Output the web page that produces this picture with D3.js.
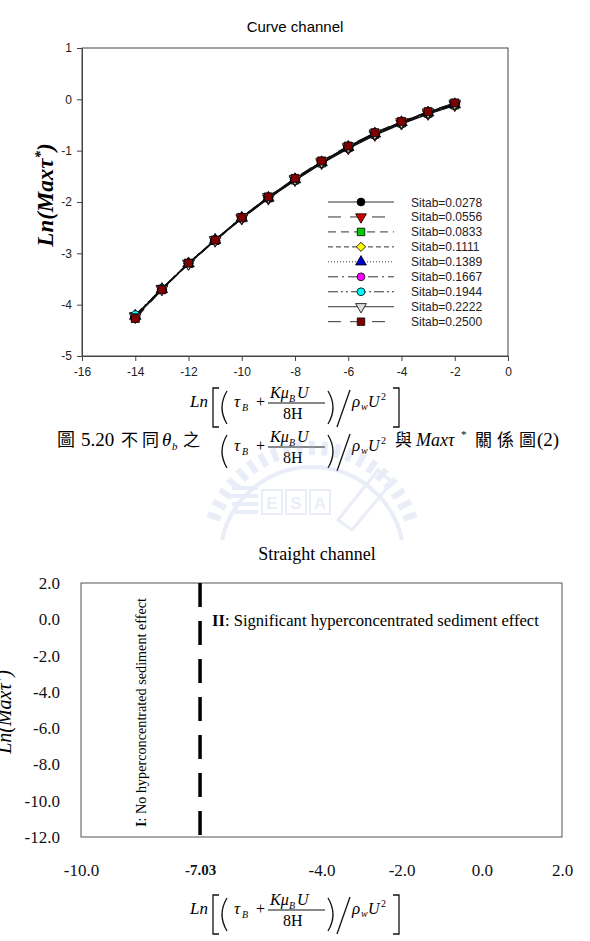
<!DOCTYPE html>
<html>
<head>
<meta charset="utf-8">
<script src="https://cdn.jsdelivr.net/npm/d3@7"></script>
<style>
  body { margin: 0; background: #fff; }
  svg { display: block; }
</style>
</head>
<body>
<div id="chart"></div>
<script>
// ---- data ----
var lnShear = [-14, -13, -12, -11, -10, -9, -8, -7, -6, -5, -4, -3, -2];
var sitabNames = ["Sitab=0.0278", "Sitab=0.0556", "Sitab=0.0833", "Sitab=0.1111", "Sitab=0.1389",
                  "Sitab=0.1667", "Sitab=0.1944", "Sitab=0.2222", "Sitab=0.2500"];
var s0278 = [-4.22, -3.69, -3.20, -2.75, -2.32, -1.93, -1.58, -1.25, -0.96, -0.70, -0.48, -0.29, -0.12];
var s0556 = [-4.22, -3.69, -3.20, -2.75, -2.32, -1.93, -1.57, -1.24, -0.95, -0.69, -0.47, -0.28, -0.11];
var s0833 = [-4.23, -3.70, -3.20, -2.75, -2.31, -1.92, -1.57, -1.24, -0.94, -0.68, -0.46, -0.27, -0.11];
var s1111 = [-4.23, -3.70, -3.20, -2.75, -2.31, -1.92, -1.56, -1.23, -0.94, -0.68, -0.46, -0.27, -0.10];
var s1389 = [-4.22, -3.70, -3.20, -2.74, -2.31, -1.92, -1.56, -1.23, -0.93, -0.67, -0.45, -0.26, -0.10];
var s1667 = [-4.22, -3.69, -3.19, -2.74, -2.30, -1.91, -1.55, -1.22, -0.93, -0.67, -0.45, -0.26, -0.09];
var s1944 = [-4.20, -3.69, -3.19, -2.74, -2.30, -1.91, -1.55, -1.22, -0.92, -0.66, -0.44, -0.25, -0.09];
var s2222 = [-4.24, -3.70, -3.20, -2.74, -2.30, -1.90, -1.55, -1.21, -0.92, -0.66, -0.44, -0.25, -0.08];
var s2500 = [-4.27, -3.71, -3.19, -2.74, -2.30, -1.90, -1.54, -1.20, -0.91, -0.65, -0.43, -0.24, -0.07];
var curveSeries = [s0278, s0556, s0833, s1111, s1389, s1667, s1944, s2222, s2500];
var curveXTicks = [-16, -14, -12, -10, -8, -6, -4, -2, 0];
var curveYTicks = [-5, -4, -3, -2, -1, 0, 1];

var straightXTicks = [-10, -7.03, -4, -2, 0, 2];
var straightYTicks = [2, 0, -2, -4, -6, -8, -10, -12];
var thresholdX = -7.03;

// ---- styles ----
var markerType = ["circle", "tridown", "square", "diamond", "triup", "circle", "circle", "tridown", "square"];
var markerFill = ["#000000", "#cc0000", "#00cc00", "#ffff00", "#0000cc", "#ff00ff", "#00ffff", "#dddddd", "#800000"];
var dashStyle = [null, "13,9", "8,5", "5,3", "1,2", "10,4,2,4", "10,3,2,3,2,3", null, "13,9"];

var sans = "'Liberation Sans', Arial, sans-serif";
var serif = "'Liberation Serif', 'Times New Roman', serif";
var cjk = "'Noto Sans CJK TC', 'Noto Sans CJK SC', sans-serif";

// hyphen minus like the original
var plain = function(d) { return String(d); };
var fixed1 = function(d) { return d.toFixed(1); };

var svg = d3.select("#chart").append("svg")
    .attr("width", 590)
    .attr("height", 941);

function marker(sel, type, size) {
  var sym = d3.symbolCircle, rot = 0, s = size;
  if (type == "tridown") { sym = d3.symbolTriangle; rot = 180; s = size * 0.9; }
  if (type == "triup") { sym = d3.symbolTriangle; s = size * 0.9; }
  if (type == "square") { sym = d3.symbolSquare; }
  if (type == "diamond") { sym = d3.symbolSquare; rot = 45; s = size * 0.75; }
  if (type == "circle") { s = size * 0.85; }
  sel.attr("d", d3.symbol().type(sym).size(s)())
     .attr("data-rot", rot);
  return sel;
}

// ================= top chart : Curve channel =================
var cBox = {left: 82, right: 508, top: 48, bottom: 356};

var x = d3.scaleLinear().domain([-16, 0]).range([cBox.left, cBox.right]);
var y = d3.scaleLinear().domain([-5, 1]).range([cBox.bottom, cBox.top]);

svg.append("text")
    .attr("x", (cBox.left + cBox.right) / 2).attr("y", 32)
    .attr("text-anchor", "middle")
    .style("font-family", sans).style("font-size", "15px")
    .text("Curve channel");

// frame
svg.append("rect")
    .attr("x", cBox.left).attr("y", cBox.top)
    .attr("width", cBox.right - cBox.left).attr("height", cBox.bottom - cBox.top)
    .attr("fill", "none").attr("stroke", "#444").attr("stroke-width", 1);

var xAxis = svg.append("g")
    .attr("transform", "translate(0," + cBox.bottom + ")")
    .call(d3.axisBottom(x).tickValues(curveXTicks).tickSize(5).tickPadding(6).tickSizeOuter(0).tickFormat(plain));
var yAxis = svg.append("g")
    .attr("transform", "translate(" + cBox.left + ",0)")
    .call(d3.axisLeft(y).tickValues(curveYTicks).tickSize(5).tickPadding(5).tickSizeOuter(0).tickFormat(plain));
[xAxis, yAxis].forEach(function(a) {
  a.selectAll("text").style("font-family", sans).style("font-size", "12px").attr("fill", "#222");
  a.selectAll("line, path").attr("stroke", "#444");
});

// lines and markers
var valueline = d3.line()
    .x(function(d, i) { return x(lnShear[i]); })
    .y(function(d) { return y(d); });

curveSeries.forEach(function(vals, k) {
  svg.append("path")
      .datum(vals)
      .attr("d", valueline)
      .attr("fill", "none")
      .attr("stroke", "#111")
      .attr("stroke-width", 1.3)
      .attr("stroke-dasharray", dashStyle[k]);
});
curveSeries.forEach(function(vals, k) {
  svg.append("g").selectAll("path")
      .data(vals)
      .enter().append("path")
      .each(function(d, i) {
        var p = marker(d3.select(this), markerType[k], 64);
        p.attr("transform", "translate(" + x(lnShear[i]) + "," + y(d) + ") rotate(" + p.attr("data-rot") + ")");
      })
      .attr("fill", markerFill[k])
      .attr("stroke", "#000")
      .attr("stroke-width", 0.8);
});

// legend
var legend = svg.append("g");
sitabNames.forEach(function(name, k) {
  var ly = 202 + k * 14.96;
  legend.append("line")
      .attr("x1", 328).attr("x2", 394).attr("y1", ly).attr("y2", ly)
      .attr("stroke", "#333").attr("stroke-width", 1)
      .attr("stroke-dasharray", dashStyle[k]);
  var p = marker(legend.append("path"), markerType[k], 56);
  p.attr("transform", "translate(361," + ly + ") rotate(" + p.attr("data-rot") + ")")
      .attr("fill", markerFill[k]).attr("stroke", "#000").attr("stroke-width", 0.8);
  legend.append("text")
      .attr("x", 411).attr("y", ly + 4.5)
      .style("font-family", sans).style("font-size", "12px").attr("fill", "#222")
      .text(name);
});

// y label
svg.append("text")
    .attr("transform", "translate(53,195) rotate(-90)")
    .attr("text-anchor", "middle")
    .style("font-family", serif).style("font-size", "23px").style("font-style", "italic")
    .style("font-weight", "bold")
    .html("Ln(Max&#964;<tspan dy='-8' font-size='15'>*</tspan><tspan dy='8'>)</tspan>");

// ---- math formula: Ln[(tau_B + K mu_B U / 8H) / rho_w U^2] ----
function formula(dy, withLn) {
  var g = svg.append("g").attr("transform", "translate(0," + dy + ")");
  function t(px, py, str, size, italic) {
    return g.append("text").attr("x", px).attr("y", py)
      .style("font-family", serif).style("font-size", size + "px")
      .style("font-style", italic ? "italic" : "normal")
      .text(str);
  }
  var stroke = function(p) { g.append("path").attr("d", p).attr("fill", "none").attr("stroke", "#111").attr("stroke-width", 1.3); };
  if (withLn) {
    t(190, 407, "Ln", 17, true);
    stroke("M219,388 H213 V427 H219");
    stroke("M393,388 H399 V427 H393");
  }
  stroke("M227,391 Q217,407.5 227,424");
  stroke("M328,391 Q338,407.5 328,424");
  stroke("M350,390 L337,427");
  t(234, 407, "\u03C4", 17, true);
  t(242, 411, "B", 10, true);
  t(256, 407, "+", 16, false);
  t(270, 398, "K\u03BC", 16, true);
  t(289, 402, "B", 10, true);
  t(297, 398, "U", 16, true);
  g.append("line").attr("x1", 268).attr("x2", 325).attr("y1", 403).attr("y2", 403)
      .attr("stroke", "#111").attr("stroke-width", 1);
  t(283, 419, "8H", 16, false);
  t(352, 407, "\u03C1", 17, true);
  t(361, 410, "w", 10, true);
  t(368, 407, "U", 16, true);
  t(381, 400, "2", 10, false);
  return g;
}
formula(0, true);

// ---- caption ----
var cap = svg.append("g");
cap.append("text").attr("x", 57).attr("y", 446).style("font-family", cjk).style("font-size", "18px").text("圖");
cap.append("text").attr("x", 81).attr("y", 446).style("font-family", serif).style("font-size", "19px").text("5.20");
cap.append("text").attr("x", 121).attr("y", 446).style("font-family", cjk).style("font-size", "17px").text("不");
cap.append("text").attr("x", 142).attr("y", 446).style("font-family", cjk).style("font-size", "17px").text("同");
cap.append("text").attr("x", 162).attr("y", 446).style("font-family", serif).style("font-size", "19px").style("font-style", "italic").text("\u03B8");
cap.append("text").attr("x", 172).attr("y", 450).style("font-family", serif).style("font-size", "11px").style("font-style", "italic").text("b");
cap.append("text").attr("x", 183).attr("y", 446).style("font-family", cjk).style("font-size", "17px").text("之");
formula(44, false);
cap.append("text").attr("x", 395).attr("y", 446).style("font-family", cjk).style("font-size", "17px").text("與");
cap.append("text").attr("x", 416).attr("y", 446).style("font-family", serif).style("font-size", "18px").style("font-style", "italic").text("Max\u03C4");
cap.append("text").attr("x", 461).attr("y", 438).style("font-family", serif).style("font-size", "11px").text("*");
cap.append("text").attr("x", 475).attr("y", 446).style("font-family", cjk).style("font-size", "17px").text("關");
cap.append("text").attr("x", 497).attr("y", 446).style("font-family", cjk).style("font-size", "17px").text("係");
cap.append("text").attr("x", 519).attr("y", 446).style("font-family", cjk).style("font-size", "17px").text("圖");
cap.append("text").attr("x", 537).attr("y", 446).style("font-family", serif).style("font-size", "19px").text("(2)");

// ---- faint watermark ----
var wmColor = "#9fb2e2";
var wm = svg.append("g").attr("opacity", 0.22).attr("fill", wmColor);
var wmCx = 312, wmCy = 552, wmR = 104;
d3.range(200, 341, 7).forEach(function(a) {
  var r = a * Math.PI / 180;
  wm.append("rect").attr("x", -3).attr("y", -7).attr("width", 6).attr("height", 14)
    .attr("transform", "translate(" + (wmCx + wmR * Math.cos(r)) + "," + (wmCy + wmR * Math.sin(r)) + ") rotate(" + (a + 90) + ")");
});
wm.append("path").attr("d", "M222,540 A92,92 0 0 1 402,540").attr("fill", "none").attr("stroke", wmColor).attr("stroke-width", 4);
[0, 1, 2, 3].forEach(function(i) {
  wm.append("rect").attr("x", 232).attr("y", 486 + i * 8).attr("width", 26).attr("height", 4);
});
["E", "S", "A"].forEach(function(c, i) {
  wm.append("rect").attr("x", 262 + i * 24).attr("y", 490).attr("width", 20).attr("height", 24).attr("fill", "none")
    .attr("stroke", wmColor).attr("stroke-width", 2);
  wm.append("text").attr("x", 272 + i * 24).attr("y", 509).attr("text-anchor", "middle")
    .style("font-family", sans).style("font-size", "17px").style("font-weight", "bold").text(c);
});
wm.append("path").attr("d", "M338,520 L378,470 L392,482 L352,530 Z").attr("fill", "none").attr("stroke", wmColor).attr("stroke-width", 3);

// ================= bottom chart : Straight channel =================
var sBox = {left: 81, right: 562, top: 583, bottom: 837};
var x2 = d3.scaleLinear().domain([-10, 2]).range([sBox.left, sBox.right]);
var y2 = d3.scaleLinear().domain([-12, 2]).range([sBox.bottom, sBox.top]);

svg.append("text")
    .attr("x", 317).attr("y", 560)
    .attr("text-anchor", "middle")
    .style("font-family", serif).style("font-size", "18px")
    .text("Straight channel");

svg.append("rect")
    .attr("x", sBox.left).attr("y", sBox.top)
    .attr("width", sBox.right - sBox.left).attr("height", sBox.bottom - sBox.top)
    .attr("fill", "none").attr("stroke", "#555").attr("stroke-width", 1);

var xAxis2 = svg.append("g")
    .attr("transform", "translate(0," + sBox.bottom + ")")
    .call(d3.axisBottom(x2).tickValues(straightXTicks).tickSize(0).tickPadding(27)
      .tickFormat(function(d) { return d == thresholdX ? "-7.03" : fixed1(d); }));
var yAxis2 = svg.append("g")
    .attr("transform", "translate(" + sBox.left + ",0)")
    .call(d3.axisLeft(y2).tickValues(straightYTicks).tickSize(0).tickPadding(21)
      .tickFormat(fixed1));
[xAxis2, yAxis2].forEach(function(a) {
  a.select(".domain").remove();
  a.selectAll("text").style("font-family", serif).style("font-size", "17px").attr("fill", "#111");
});
xAxis2.selectAll("text")
    .filter(function(d) { return d == thresholdX; })
    .style("font-weight", "bold").style("font-size", "15px");

// threshold line
svg.append("line")
    .attr("x1", x2(thresholdX)).attr("x2", x2(thresholdX))
    .attr("y1", y2(2)).attr("y2", y2(-12))
    .attr("stroke", "#000").attr("stroke-width", 3.5)
    .attr("stroke-dasharray", "24,14");

svg.append("text")
    .attr("transform", "translate(146,827) rotate(-90)")
    .style("font-family", serif).style("font-size", "14.2px")
    .html("<tspan font-weight='bold'>I</tspan>: No hyperconcentrated sediment effect");

svg.append("text")
    .attr("x", 212).attr("y", 626)
    .style("font-family", serif).style("font-size", "16.6px")
    .html("<tspan font-weight='bold'>II</tspan>: Significant hyperconcentrated sediment effect");

svg.append("text")
    .attr("transform", "translate(11,712) rotate(-90)")
    .attr("text-anchor", "middle")
    .style("font-family", serif).style("font-size", "20px").style("font-style", "italic")
    .html("Ln(Max&#964;<tspan dy='-7' font-size='13'>*</tspan><tspan dy='7'>)</tspan>");

formula(507, true);
</script>
</body>
</html>
